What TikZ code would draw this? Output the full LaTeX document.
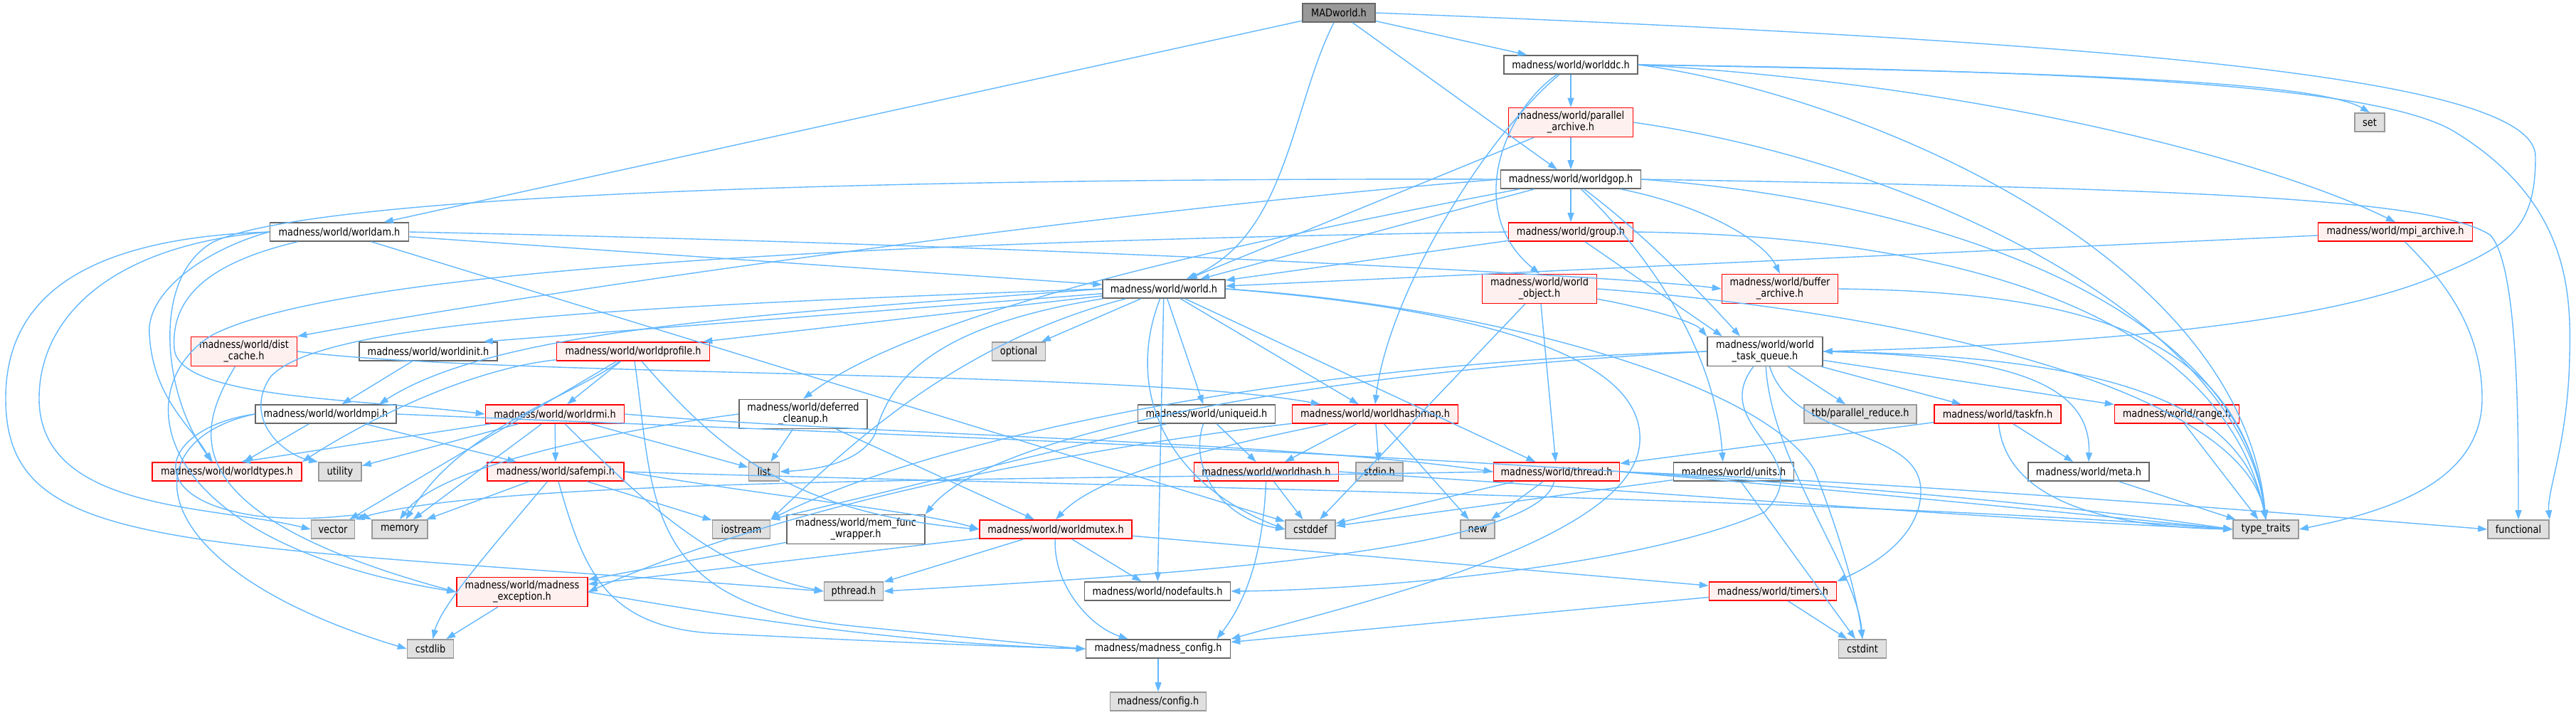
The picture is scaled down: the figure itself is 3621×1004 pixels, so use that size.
\documentclass[tikz,border=0pt]{standalone}
\usepackage{fontspec}
\usetikzlibrary{arrows.meta}
\newfontfamily\dfont{DejaVu Sans}[FakeStretch=0.86]
\definecolor{edgec}{HTML}{63B8FF}
\definecolor{bdr}{HTML}{666666}
\definecolor{gbdr}{HTML}{999999}
\definecolor{gfill}{HTML}{E0E0E0}
\definecolor{rfill}{HTML}{FFF0F0}
\definecolor{mfill}{HTML}{999999}
\tikzset{
  nd/.style={draw=bdr, fill=white, line width=1.6pt, inner sep=0pt, minimum height=26pt,
    font=\dfont\fontsize{15}{16}\selectfont, align=center},
  nr/.style={nd, draw=red, fill=rfill},
  ng/.style={nd, draw=gbdr, fill=gfill},
  nm/.style={nd, draw=bdr, fill=mfill},
  two/.style={minimum height=41pt},
  e/.style={draw=edgec, line width=1.4pt, -{Triangle[length=13pt,width=9pt]}},
}
\begin{document}
\begin{tikzpicture}[x=1pt,y=-1pt]
\useasboundingbox (0,0) rectangle (3621,1004);
\fill[white] (0,0) rectangle (3621,1004);
% ---------------- nodes ----------------
\node[nm, minimum width=102pt] (MAD) at (1882,18) {MADworld.h};
\node[nd, minimum width=188pt] (worlddc) at (2208,91) {madness/world/worlddc.h};
\node[nr, two, minimum width=175pt] (parch) at (2208,172) {madness/world/parallel\\\_archive.h};
\node[ng, minimum width=42pt] (set) at (3331,172) {set};
\node[nd, minimum width=197pt] (worldgop) at (2208,252) {madness/world/worldgop.h};
\node[nd, minimum width=195pt] (worldam) at (477,326) {madness/world/worldam.h};
\node[nr, minimum width=175pt] (group) at (2208,326) {madness/world/group.h};
\node[nr, minimum width=217pt] (mpiarch) at (3367,326) {madness/world/mpi\_archive.h};
\node[nd, minimum width=172pt] (world) at (1636,406) {madness/world/world.h};
\node[nr, two, minimum width=161pt] (wobj) at (2164,406) {madness/world/world\\\_object.h};
\node[nr, two, minimum width=163pt] (barch) at (2502,406) {madness/world/buffer\\\_archive.h};
\node[nr, two, minimum width=149pt] (distcache) at (343,494) {madness/world/dist\\\_cache.h};
\node[nd, minimum width=194pt] (worldinit) at (602,494) {madness/world/worldinit.h};
\node[nr, minimum width=215pt] (worldprofile) at (890,494) {madness/world/worldprofile.h};
\node[ng, minimum width=75pt] (optional) at (1432,494) {optional};
\node[nd, two, minimum width=162pt] (wtq) at (2481,494) {madness/world/world\\\_task\_queue.h};
\node[nd, minimum width=198pt] (worldmpi) at (458,582) {madness/world/worldmpi.h};
\node[nr, minimum width=195pt] (worldrmi) at (780,582) {madness/world/worldrmi.h};
\node[nd, two, minimum width=180pt] (deferred) at (1129,582) {madness/world/deferred\\\_cleanup.h};
\node[nd, minimum width=193pt] (uniqueid) at (1696,582) {madness/world/uniqueid.h};
\node[nr, minimum width=233pt] (worldhashmap) at (1933,582) {madness/world/worldhashmap.h};
\node[ng, minimum width=158pt] (tbb) at (2615,582) {tbb/parallel\_reduce.h};
\node[nr, minimum width=178pt] (taskfn) at (2808,582) {madness/world/taskfn.h};
\node[nr, minimum width=175pt] (range) at (3060,582) {madness/world/range.h};
\node[nr, minimum width=210pt] (worldtypes) at (319,663) {madness/world/worldtypes.h};
\node[ng, minimum width=60pt] (utility) at (478,663) {utility};
\node[nr, minimum width=192pt] (safempi) at (781,663) {madness/world/safempi.h};
\node[ng, minimum width=43pt] (list) at (1074,663) {list};
\node[nr, minimum width=203pt] (worldhash) at (1780,663) {madness/world/worldhash.h};
\node[ng, minimum width=66pt] (stdio) at (1939,663) {stdio.h};
\node[nr, minimum width=177pt] (thread) at (2188,663) {madness/world/thread.h};
\node[nd, minimum width=169pt] (units) at (2437,663) {madness/world/units.h};
\node[nd, minimum width=170pt] (meta) at (2936,663) {madness/world/meta.h};
\node[ng, minimum width=61pt] (vector) at (468,744) {vector};
\node[ng, minimum width=78pt] (memory) at (562,744) {memory};
\node[ng, minimum width=81pt] (iostream) at (1042,744) {iostream};
\node[nd, two, minimum width=194pt] (memfunc) at (1203,744) {madness/world/mem\_func\\\_wrapper.h};
\node[nr, minimum width=214pt] (worldmutex) at (1484,744) {madness/world/worldmutex.h};
\node[ng, minimum width=70pt] (cstddef) at (1842,744) {cstddef};
\node[ng, minimum width=48pt] (new) at (2077,744) {new};
\node[ng, minimum width=92pt] (typetraits) at (3185,744) {type\_traits};
\node[ng, minimum width=86pt] (functional) at (3540,744) {functional};
\node[nr, two, minimum width=184pt] (mexc) at (734,832) {madness/world/madness\\\_exception.h};
\node[ng, minimum width=83pt] (pthread) at (1200,831) {pthread.h};
\node[nd, minimum width=205pt] (nodefaults) at (1627,831) {madness/world/nodefaults.h};
\node[nr, minimum width=179pt] (timers) at (2492,831) {madness/world/timers.h};
\node[ng, minimum width=65pt] (cstdlib) at (605,912) {cstdlib};
\node[nd, minimum width=203pt] (mconfig) at (1628,912) {madness/madness\_config.h};
\node[ng, minimum width=67pt] (cstdint) at (2618,912) {cstdint};
\node[ng, minimum width=135pt] (config) at (1628,986) {madness/config.h};
% ---------------- edges ----------------
% MADworld
\draw[e] (MAD) -- (worldam);
\draw[e] (MAD) .. controls (1815,150) and (1810,330) .. (world);
\draw[e] (MAD) -- (worldgop);
\draw[e] (MAD) -- (worlddc);
\draw[e] (MAD.east) .. controls (3000,60) and (3564,110) .. (3564,220) .. controls (3564,320) and (3530,345) .. (3420,390) .. controls (3250,460) and (2900,485) .. (wtq.east);
% worlddc
\draw[e] (worlddc) -- (parch);
\draw[e] (worlddc.east) .. controls (2800,100) and (3250,110) .. (set.north);
\draw[e] (worlddc.east) .. controls (3000,100) and (3350,125) .. (3450,185) .. controls (3605,280) and (3615,400) .. (3612,500) .. controls (3610,620) and (3580,690) .. (functional.north east);
\draw[e] (worlddc.east) .. controls (2800,120) and (3200,230) .. (mpiarch.north);
\draw[e] (worlddc.east) .. controls (2600,130) and (3150,350) .. (typetraits.north);
\draw[e] (worlddc) .. controls (2110,160) and (2060,300) .. (wobj.north);
\draw[e] (worlddc) .. controls (2080,200) and (1950,420) .. (worldhashmap.north);
% parallel_archive
\draw[e] (parch) -- (world);
\draw[e] (parch) -- (worldgop);
\draw[e] (parch.east) .. controls (2700,230) and (3150,450) .. (typetraits.north);
% worldgop
\draw[e] (worldgop) -- (group);
\draw[e] (worldgop) -- (world);
\draw[e] (worldgop) .. controls (2400,290) and (2480,340) .. (barch.north);
\draw[e] (worldgop) .. controls (2300,320) and (2380,400) .. ([xshift=-35pt]wtq.north);
\draw[e] (worldgop) .. controls (2290,330) and (2410,470) .. ([xshift=70pt]units.north west);
\draw[e] (worldgop.east) .. controls (3100,265) and (3420,280) .. (3500,330) .. controls (3540,370) and (3540,600) .. (functional.north);
\draw[e] (worldgop.east) .. controls (2700,280) and (3150,420) .. (typetraits.north);
\draw[e] (worldgop.west) .. controls (1300,250) and (450,270) .. (300,340) .. controls (210,390) and (230,560) .. ([xshift=-20pt]worldtypes.north);
\draw[e] (worldgop.west) .. controls (1500,300) and (700,420) .. (distcache.north east);
\draw[e] (worldgop) .. controls (1800,330) and (1300,430) .. (deferred.north);
% group
\draw[e] (group) -- (world);
\draw[e] (group.east) .. controls (2700,330) and (3120,420) .. (typetraits.north);
\draw[e] (group) -- ([xshift=-60pt]wtq.north);
\draw[e] (group.west) .. controls (1200,340) and (480,380) .. (300,470) .. controls (180,540) and (200,760) .. (mexc.west);
% mpi_archive
\draw[e] (mpiarch) -- (world);
\draw[e] (mpiarch) .. controls (3420,380) and (3489,450) .. (3489,560) .. controls (3489,680) and (3350,720) .. (typetraits.east);
% worldam
\draw[e] (worldam) -- (world);
\draw[e] (worldam.east) .. controls (1500,345) and (2300,390) .. (barch.west);
\draw[e] (worldam.west) .. controls (290,350) and (205,410) .. (210,470) .. controls (215,560) and (270,600) .. ([xshift=-22pt]worldtypes.north);
\draw[e] (worldam) .. controls (290,370) and (240,420) .. (245,490) .. controls (250,560) and (500,560) .. (worldrmi.west);
\draw[e] (worldam) -- (cstddef);
\draw[e] (worldam.west) .. controls (150,345) and (55,450) .. (55,560) .. controls (55,720) and (300,710) .. (vector.west);
\draw[e] (worldam.west) .. controls (100,335) and (8,430) .. (8,560) .. controls (8,780) and (250,760) .. (pthread.west);
% world
\draw[e] (world) -- (optional);
\draw[e] (world) -- ([xshift=-20pt]worldinit.north east);
\draw[e] (world) -- ([xshift=-10pt]worldprofile.north east);
\draw[e] (world.west) .. controls (1100,440) and (700,460) .. ([xshift=-25pt]worldmpi.north east);
\draw[e] (world.west) .. controls (900,430) and (450,450) .. (380,530) .. controls (340,590) and (400,640) .. (utility.north west);
\draw[e] (world) .. controls (1300,460) and (1250,540) .. (1230,610) .. controls (1210,650) and (1150,660) .. (list.east);
\draw[e] (world) .. controls (1350,480) and (1200,620) .. (iostream.north east);
\draw[e] (world) -- (uniqueid);
\draw[e] (world) -- (worldhashmap);
\draw[e] (world) -- (thread);
\draw[e] (world) -- (nodefaults);
\draw[e] (world) .. controls (1580,550) and (1640,680) .. (cstddef.west);
\draw[e] (world.east) .. controls (2150,440) and (2310,520) .. (2305,620) .. controls (2300,760) and (1900,850) .. (mconfig.north east);
\draw[e] (world.east) .. controls (2100,430) and (2480,540) .. (2550,660) .. controls (2590,760) and (2610,840) .. (cstdint.north);
% world_object
\draw[e] (wobj) .. controls (2300,430) and (2380,450) .. (wtq.north west);
\draw[e] (wobj) -- (thread);
\draw[e] (wobj) -- (cstddef);
\draw[e] (wobj.east) .. controls (2700,440) and (3150,550) .. (typetraits.north);
% buffer_archive
\draw[e] (barch.east) .. controls (2950,410) and (3150,480) .. (typetraits.north);
% world_task_queue
\draw[e] (wtq) -- (tbb);
\draw[e] (wtq) -- (taskfn);
\draw[e] (wtq) -- (range);
\draw[e] (wtq.east) .. controls (2800,500) and (2940,530) .. (meta.north);
\draw[e] (wtq.east) .. controls (2950,500) and (3150,560) .. (typetraits.north);
\draw[e] (wtq) .. controls (2490,650) and (2610,800) .. (cstdint.north);
\draw[e] (wtq) .. controls (2520,620) and (2700,600) .. (2700,690) .. controls (2700,760) and (2620,800) .. (timers.north east);
\draw[e] (wtq) .. controls (2400,600) and (2560,640) .. (2480,720) .. controls (2300,800) and (1900,830) .. (nodefaults.east);
\draw[e] (wtq.west) .. controls (1800,510) and (1300,620) .. (iostream.north east);
\draw[e] (wtq.west) .. controls (1900,520) and (1400,600) .. (memfunc.north east);
% taskfn, range, meta, units
\draw[e] (taskfn) -- (meta);
\draw[e] (taskfn) .. controls (2820,700) and (2950,740) .. (typetraits.west);
\draw[e] (taskfn) -- (thread);
\draw[e] (range) -- (typetraits);
\draw[e] (meta) -- (typetraits);
\draw[e] (units) -- (cstdint);
\draw[e] (units) -- (cstddef);
% thread
\draw[e] (thread) -- (cstddef);
\draw[e] (thread) -- (new);
\draw[e] (thread) .. controls (2160,780) and (1600,810) .. (pthread.east);
\draw[e] (thread.east) .. controls (2600,690) and (2900,720) .. (typetraits.west);
\draw[e] (thread.east) .. controls (2700,680) and (3200,720) .. (functional.west);
\draw[e] (thread.west) .. controls (1500,675) and (700,670) .. (vector.north east);
% worldhashmap
\draw[e] (worldhashmap) -- (worldhash);
\draw[e] (worldhashmap) -- (stdio);
\draw[e] (worldhashmap) -- (new);
\draw[e] (worldhashmap) .. controls (1750,620) and (1550,660) .. (worldmutex.north);
\draw[e] (worldhashmap) .. controls (1600,620) and (1150,690) .. (mexc.east);
% worldhash
\draw[e] (worldhash) -- (cstddef);
\draw[e] (worldhash) .. controls (1775,800) and (1740,860) .. ([xshift=-20pt]mconfig.north east);
\draw[e] (worldhash.east) .. controls (2300,690) and (2800,730) .. (typetraits.west);
% uniqueid
\draw[e] (uniqueid) -- (worldhash);
\draw[e] (uniqueid) .. controls (1670,660) and (1720,730) .. (cstddef.west);
\draw[e] (uniqueid) .. controls (1500,630) and (1250,690) .. (iostream.north east);
% worldinit
\draw[e] (worldinit) -- (worldmpi);
% worldprofile
\draw[e] (worldprofile) -- (worldrmi);
\draw[e] (worldprofile) .. controls (650,520) and (500,600) .. (worldtypes.north east);
\draw[e] (worldprofile) .. controls (800,560) and (650,600) .. (memory);
\draw[e] (worldprofile) -- (vector);
\draw[e] (worldprofile) .. controls (1000,620) and (1100,720) .. (worldmutex.west);
\draw[e] (worldprofile) .. controls (920,700) and (900,850) .. (1200,880) .. controls (1400,900) and (1500,910) .. (mconfig.west);
% worldmpi
\draw[e] (worldmpi) -- (worldtypes);
\draw[e] (worldmpi) -- (safempi);
\draw[e] (worldmpi.west) .. controls (230,600) and (190,700) .. (360,725) .. controls (450,735) and (500,720) .. (memory.north west);
\draw[e] (worldmpi.east) .. controls (1200,610) and (2500,650) .. (typetraits.west);
\draw[e] (worldmpi.west) .. controls (180,620) and (200,800) .. (cstdlib.west);
% worldrmi
\draw[e] (worldrmi) -- (safempi);
\draw[e] (worldrmi) -- ([xshift=20pt]worldtypes.north);
\draw[e] (worldrmi) -- (utility);
\draw[e] (worldrmi) -- (memory);
\draw[e] (worldrmi) -- (list);
\draw[e] (worldrmi) .. controls (900,700) and (1000,800) .. (pthread.west);
\draw[e] (worldrmi.east) .. controls (1200,610) and (1800,620) .. (thread.west);
% safempi
\draw[e] (safempi) -- (memory);
\draw[e] (safempi) -- (iostream);
\draw[e] (safempi) .. controls (700,760) and (620,850) .. (cstdlib);
\draw[e] (safempi) .. controls (820,800) and (850,880) .. (1000,890) .. controls (1300,905) and (1450,910) .. (mconfig.west);
\draw[e] (safempi.east) .. controls (1100,700) and (1300,720) .. (worldmutex.west);
\draw[e] (safempi.east) .. controls (1400,680) and (2600,700) .. (typetraits.west);
% deferred_cleanup
\draw[e] (deferred) -- (list);
\draw[e] (deferred) -- (worldmutex);
\draw[e] (deferred.west) .. controls (900,600) and (620,650) .. (memory.north);
% mem_func_wrapper
\draw[e] (memfunc) -- (mexc);
% worldmutex
\draw[e] (worldmutex) -- (mexc);
\draw[e] (worldmutex) -- (pthread);
\draw[e] (worldmutex) -- (nodefaults);
\draw[e] (worldmutex) .. controls (1480,820) and (1530,880) .. (mconfig);
\draw[e] (worldmutex) -- (timers);
% madness_exception
\draw[e] (mexc) -- (cstdlib);
\draw[e] (mexc.east) .. controls (1100,880) and (1300,905) .. (mconfig.west);
% timers, config
\draw[e] (timers) -- (cstdint);
\draw[e] (timers) -- (mconfig);
\draw[e] (mconfig) -- (config);
% dist_cache
\draw[e] (distcache.east) .. controls (700,530) and (1600,520) .. ([xshift=40pt]worldhashmap.north west);
\draw[e] (distcache) .. controls (280,600) and (230,720) .. (mexc.west);
\end{tikzpicture}
\end{document}
